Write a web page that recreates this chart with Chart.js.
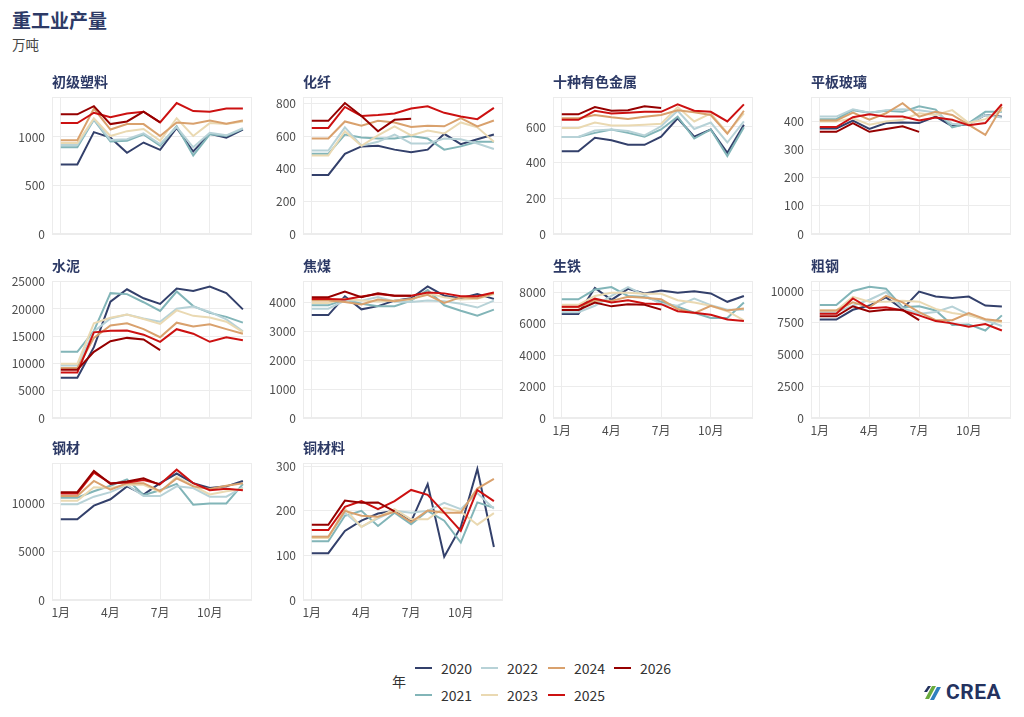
<!DOCTYPE html>
<html>
<head>
<meta charset="utf-8">
<script src="https://cdn.jsdelivr.net/npm/chart.js@4/dist/chart.umd.min.js"></script>
<style>
  body { margin: 0; background: #fff; font-family: "Noto Sans CJK SC", "Noto Sans", sans-serif; }
  #page { position: relative; width: 1024px; height: 717px; overflow: hidden; }
  .title { position: absolute; left: 12px; top: 6px; font-size: 19px; font-weight: bold; color: #2d3a66; }
  .subtitle { position: absolute; left: 12px; top: 34px; font-size: 13.5px; color: #444; }
  .ptitle { position: absolute; font-size: 14px; line-height: 14px; font-weight: bold; color: #2d3a66; white-space: nowrap; z-index: 2; }
  .box { position: absolute; }
  .legend-title { position: absolute; left: 392px; top: 671px; font-size: 14px; color: #333; }
  .lg-line { position: absolute; width: 17px; height: 2px; }
  .lg-text { position: absolute; font-size: 14px; line-height: 16px; color: #333; }
  .logo { position: absolute; left: 922px; top: 682px; }
  .logo-text { position: absolute; left: 946px; top: 680px; font-family: "Roboto", "DejaVu Sans", sans-serif; font-weight: bold; font-size: 21px; color: #24325f; letter-spacing: 0.5px; }
</style>
</head>
<body>
<div id="page">
  <div class="title">重工业产量</div>
  <div class="subtitle">万吨</div>
  <div class="legend-title">年</div>
  <svg class="logo" width="22" height="22" viewBox="0 0 22 22">
    <path d="M3 17 L10 4 L14 4 L7 17 Z" fill="#6aab3e"/>
    <path d="M8 18 L15 5 L19 5 L12 18 Z" fill="#2f7fbf"/>
    <path d="M2 10 L6 4 L9 4 L5 10 Z" fill="#24325f"/>
  </svg>
  <div class="logo-text">CREA</div>
</div>
<script>
// months on the x axis, and the years shown as lines
const months = [1, 2, 3, 4, 5, 6, 7, 8, 9, 10, 11, 12];
const monthTicks = [1, 4, 7, 10];
const years = ['2020', '2021', '2022', '2023', '2024', '2025', '2026'];
const yearColors = ['#33406b', '#82b5b8', '#b7d2d7', '#ead9b2', '#d9a16d', '#cc1111', '#960000'];

// values in 万吨, one row per year (2026 is partial)
const plastics = [
  [717, 717, 1050, 993, 837, 943, 867, 1093, 850, 1033, 993, 1077],
  [893, 893, 1177, 953, 960, 1027, 910, 1110, 810, 1027, 1010, 1083],
  [917, 917, 1183, 970, 977, 1037, 927, 1103, 893, 1043, 1017, 1090],
  [937, 937, 1193, 1010, 1060, 1083, 960, 1193, 1010, 1143, 1133, 1160],
  [967, 967, 1293, 1077, 1133, 1133, 1010, 1150, 1137, 1170, 1137, 1170],
  [1143, 1143, 1250, 1203, 1243, 1260, 1150, 1350, 1267, 1260, 1293, 1293],
  [1233, 1233, 1317, 1133, 1160, 1260, 1150]
];
const fiber = [
  [363, 363, 492, 538, 542, 518, 502, 518, 615, 552, 582, 611],
  [492, 492, 611, 592, 586, 586, 601, 586, 518, 538, 566, 566],
  [512, 512, 655, 542, 566, 611, 556, 556, 586, 582, 556, 522],
  [482, 482, 631, 542, 605, 661, 605, 635, 617, 685, 655, 566],
  [586, 586, 691, 665, 695, 685, 657, 665, 661, 711, 661, 697],
  [651, 651, 780, 725, 730, 740, 770, 784, 744, 721, 705, 774],
  [695, 695, 804, 725, 631, 701, 707]
];
const metals = [
  [464, 464, 540, 526, 500, 500, 546, 649, 546, 586, 455, 613],
  [544, 544, 567, 586, 567, 546, 586, 658, 535, 586, 437, 598],
  [544, 544, 580, 586, 577, 553, 604, 691, 589, 625, 513, 631],
  [595, 595, 625, 609, 609, 613, 618, 712, 631, 676, 567, 676],
  [649, 649, 667, 654, 645, 658, 667, 694, 682, 667, 562, 691],
  [640, 640, 691, 676, 680, 685, 685, 727, 691, 685, 631, 727],
  [671, 671, 712, 691, 694, 716, 707]
];
const glass = [
  [375, 375, 403, 373, 394, 396, 394, 417, 383, 391, 423, 417],
  [408, 408, 440, 431, 438, 434, 454, 442, 379, 394, 434, 434],
  [417, 417, 443, 431, 440, 443, 440, 432, 391, 391, 423, 414],
  [400, 400, 411, 388, 400, 406, 429, 423, 440, 394, 408, 440],
  [403, 403, 431, 406, 429, 465, 417, 434, 423, 388, 352, 452],
  [380, 380, 415, 425, 417, 417, 403, 414, 406, 386, 394, 461],
  [363, 363, 394, 363, 373, 383, 363]
];
const cement = [
  [7380, 7380, 13000, 21360, 23620, 21960, 20940, 23740, 23320, 24100, 22910, 19930],
  [12140, 12140, 16000, 22910, 22730, 21240, 19640, 23210, 20530, 19280, 18560, 17490],
  [9640, 9640, 15890, 18270, 18980, 18270, 17670, 20050, 20470, 19460, 18090, 15890],
  [9940, 9940, 17370, 18390, 18980, 18150, 17260, 19750, 18740, 18450, 17670, 15770],
  [9160, 9160, 14700, 16960, 17370, 16300, 14820, 17490, 16780, 17200, 16300, 15470],
  [8330, 8330, 15710, 16010, 16070, 15290, 13980, 16300, 15470, 13980, 14820, 14280],
  [8870, 8870, 12140, 14100, 14700, 14400, 12440]
];
const cokingCoal = [
  [3550, 3550, 4200, 3750, 3860, 4050, 4130, 4540, 4220, 4130, 4280, 4110],
  [3890, 3890, 4090, 3940, 3860, 3860, 4050, 4420, 3890, 3700, 3530, 3740],
  [3770, 3770, 4050, 4050, 4170, 4020, 4000, 4050, 4030, 3940, 3810, 4050],
  [3970, 3970, 4110, 4050, 4020, 4050, 4090, 4300, 4170, 4090, 4110, 4280],
  [4050, 4050, 4000, 3920, 4090, 4030, 4110, 4250, 3970, 4170, 4130, 4300],
  [4110, 4110, 4090, 4190, 4280, 4220, 4220, 4330, 4300, 4200, 4200, 4330],
  [4170, 4170, 4360, 4170, 4300, 4220, 4220]
];
const pigIron = [
  [6620, 6620, 8270, 7510, 8210, 7920, 8110, 7960, 8060, 7920, 7390, 7760],
  [7550, 7550, 8170, 8330, 7760, 7690, 7390, 7080, 6690, 6360, 6360, 7340],
  [6730, 6730, 7140, 7760, 8330, 7820, 7240, 7140, 7590, 7180, 6890, 6890],
  [7200, 7200, 7760, 7960, 7960, 7900, 7900, 7490, 7340, 7140, 6790, 6210],
  [7040, 7040, 7450, 7450, 7710, 7650, 7550, 6930, 6670, 7140, 6830, 6970],
  [7080, 7080, 7590, 7340, 7490, 7280, 7240, 6790, 6690, 6560, 6270, 6170],
  [6870, 6870, 7340, 7100, 7240, 7200, 6890]
];
const crudeSteel = [
  [7750, 7750, 8520, 8850, 9490, 8590, 9950, 9560, 9440, 9560, 8850, 8770],
  [8900, 8900, 10000, 10330, 10180, 8720, 8800, 8470, 7320, 7370, 6890, 8080],
  [8340, 8340, 8850, 9310, 9920, 8650, 8210, 8340, 8770, 8140, 7700, 7240],
  [8470, 8470, 9540, 9160, 9160, 9230, 9160, 8590, 8260, 8080, 7750, 7520],
  [8470, 8470, 9100, 8720, 9610, 9100, 8340, 7700, 7700, 8260, 7780, 7630],
  [8210, 8210, 9410, 8650, 8720, 8470, 8080, 7630, 7450, 7190, 7400, 6890],
  [8010, 8010, 8800, 8390, 8520, 8520, 7700]
];
const steelProducts = [
  [8370, 8370, 9770, 10430, 11770, 10930, 12100, 13100, 12100, 11600, 11770, 12330],
  [10600, 10600, 11270, 11830, 12500, 10870, 11370, 12030, 9870, 10000, 10000, 12000],
  [9930, 9930, 10700, 11170, 11930, 10770, 10770, 11770, 11600, 10700, 10700, 11670],
  [10270, 10270, 11670, 11600, 11930, 11930, 11170, 12770, 11830, 10930, 11270, 11500],
  [10770, 10770, 12330, 11430, 12100, 12100, 11270, 12600, 11770, 11500, 11830, 12100],
  [11030, 11030, 13200, 12100, 12170, 12430, 12000, 13500, 12100, 11370, 11530, 11370],
  [11170, 11170, 13370, 12030, 12270, 12600, 11930]
];
const copper = [
  [105, 105, 155, 178, 194, 200, 176, 260, 97, 164, 294, 119],
  [132, 132, 189, 200, 166, 196, 170, 200, 178, 129, 219, 207],
  [142, 142, 196, 164, 183, 200, 196, 200, 218, 204, 240, 205],
  [139, 139, 205, 164, 186, 204, 181, 181, 207, 198, 169, 195],
  [142, 142, 200, 189, 187, 198, 175, 201, 196, 196, 250, 272],
  [157, 157, 209, 222, 204, 222, 247, 236, 196, 155, 247, 222],
  [169, 169, 223, 218, 219, 199]
];

// panel layout
const colLefts = [52, 303, 553, 811];
const rowTops = [93, 277, 459];
const Y_W = 50, PAD_T = 10, PLOT_H = 141, PLOT_W = 200, X_H = 22;

const panels = [
  { title: '初级塑料', data: plastics, col: 0, row: 0, max: 1410, step: 500, showX: false },
  { title: '化纤', data: fiber, col: 1, row: 0, max: 840, step: 200, showX: false },
  { title: '十种有色金属', data: metals, col: 2, row: 0, max: 767, step: 200, showX: false },
  { title: '平板玻璃', data: glass, col: 3, row: 0, max: 486, step: 100, showX: false },
  { title: '水泥', data: cement, col: 0, row: 1, max: 25100, step: 5000, showX: false },
  { title: '焦煤', data: cokingCoal, col: 1, row: 1, max: 4720, step: 1000, showX: false },
  { title: '生铁', data: pigIron, col: 2, row: 1, max: 8700, step: 2000, showX: true },
  { title: '粗钢', data: crudeSteel, col: 3, row: 1, max: 10770, step: 2500, showX: true },
  { title: '钢材', data: steelProducts, col: 0, row: 2, max: 14170, step: 5000, showX: true },
  { title: '铜材料', data: copper, col: 1, row: 2, max: 307, step: 100, showX: true }
];

Chart.defaults.font.family = '"Noto Sans CJK SC", "Noto Sans", sans-serif';
Chart.defaults.font.size = 12;
Chart.defaults.color = '#4d4d4d';

const panelBorder = {
    id: 'panelBorder',
    beforeDatasetsDraw(chart) {
        const { ctx, chartArea: a } = chart;
        ctx.save();
        ctx.strokeStyle = '#ececec';
        ctx.lineWidth = 1;
        ctx.strokeRect(Math.round(a.left) + 0.5, Math.round(a.top) + 0.5, Math.round(a.width) - 1, Math.round(a.height) - 1);
        ctx.restore();
    }
};

const page = document.getElementById('page');

panels.forEach(function (p) {
    const plotLeft = colLefts[p.col];
    const plotTop = rowTops[p.row];

    const box = document.createElement('div');
    box.className = 'box';
    box.style.left = (plotLeft - Y_W) + 'px';
    box.style.top = (plotTop - PAD_T) + 'px';
    box.style.width = (Y_W + PLOT_W) + 'px';
    box.style.height = (PAD_T + PLOT_H + X_H) + 'px';
    const canvas = document.createElement('canvas');
    box.appendChild(canvas);
    page.appendChild(box);

    const t = document.createElement('div');
    t.className = 'ptitle';
    t.style.left = plotLeft + 'px';
    t.style.top = (plotTop - 19) + 'px';
    t.textContent = p.title;
    page.appendChild(t);

    // y tick values: multiples of the step below the top of the panel
    const yTicks = [];
    for (let v = 0; v <= p.max; v += p.step) yTicks.push(v);

    const datasets = years.map(function (y, i) {
        return {
            label: y,
            data: p.data[i].map((v, j) => ({ x: months[j], y: v })),
            borderColor: yearColors[i],
            backgroundColor: yearColors[i],
            borderWidth: 2,
            pointRadius: 0,
            tension: 0,
            order: years.length - i
        };
    });

    new Chart(canvas, {
        type: 'line',
        data: { datasets: datasets },
        plugins: [panelBorder],
        options: {
            responsive: true,
            maintainAspectRatio: false,
            animation: false,
            layout: { padding: { top: PAD_T, left: 0, right: 0, bottom: 0 } },
            plugins: { legend: { display: false }, tooltip: { enabled: false } },
            scales: {
                x: {
                    type: 'linear',
                    min: 0.47,
                    max: 12.55,
                    afterBuildTicks: s => { s.ticks = monthTicks.map(v => ({ value: v })); },
                    afterFit: s => { s.height = X_H; },
                    grid: { color: '#ececec', drawTicks: false },
                    border: { display: false },
                    ticks: {
                        padding: 5,
                        maxRotation: 0,
                        color: p.showX ? '#4d4d4d' : 'rgba(0,0,0,0)',
                        callback: v => v + '月'
                    }
                },
                y: {
                    min: 0,
                    max: p.max,
                    afterBuildTicks: s => { s.ticks = yTicks.map(v => ({ value: v })); },
                    afterFit: s => { s.width = Y_W; },
                    grid: { color: '#ececec', drawTicks: false },
                    border: { display: false },
                    ticks: { padding: 7, callback: v => String(v) }
                }
            }
        }
    });
});

// legend, arranged in columns like the original
years.forEach(function (y, i) {
    const col = Math.floor(i / 2);
    const row = i % 2;
    const lineX = [415, 481, 548, 614][col];
    const yc = row === 0 ? 668 : 695;
    const line = document.createElement('div');
    line.className = 'lg-line';
    line.style.left = lineX + 'px';
    line.style.top = (yc - 1) + 'px';
    line.style.background = yearColors[i];
    page.appendChild(line);
    const txt = document.createElement('div');
    txt.className = 'lg-text';
    txt.style.left = (lineX + 26) + 'px';
    txt.style.top = (yc - 8) + 'px';
    txt.textContent = y;
    page.appendChild(txt);
});
</script>
</body>
</html>
